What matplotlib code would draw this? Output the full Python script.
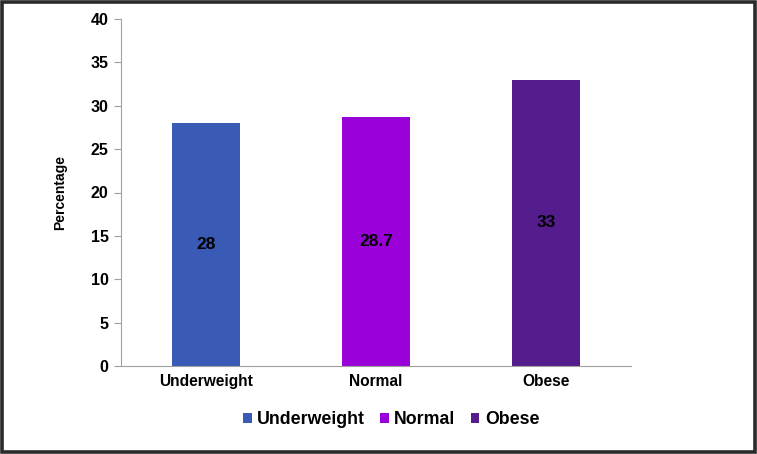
import matplotlib.pyplot as plt
from matplotlib.patches import Rectangle

plt.rcParams['font.family'] = ['Liberation Sans', 'DejaVu Sans']

categories = ['Underweight', 'Normal', 'Obese']
values = [28, 28.7, 33]
labels = ['28', '28.7', '33']
colors = ['#3A5BB5', '#9A00D8', '#541C8C']

fig = plt.figure(figsize=(7.57, 4.54), dpi=100)
ax = fig.add_axes([121 / 757, 1 - 366 / 454, 510 / 757, 347 / 454])

bars = ax.bar(range(len(categories)), values, width=0.4, color=colors, label=categories)
for b, v, t in zip(bars, values, labels):
    ax.text(b.get_x() + b.get_width() / 2, v / 2, t, ha='center', va='center',
            fontsize=12.5, fontweight='bold', color='black')

ax.set_xlim(-0.5, 2.5)
ax.set_ylim(0, 40)
ax.set_yticks(range(0, 41, 5))
ax.set_xticks(range(len(categories)))
ax.set_xticklabels(categories)
ax.tick_params(axis='y', labelsize=11.5, color='#a0a0a0', length=5, pad=4)
ax.tick_params(axis='x', labelsize=11.2, length=0, pad=6)
for lab in ax.get_xticklabels() + ax.get_yticklabels():
    lab.set_fontweight('bold')
ax.set_ylabel('Percentage', fontsize=10, fontweight='bold', labelpad=17)
ax.spines['top'].set_visible(False)
ax.spines['right'].set_visible(False)
ax.spines['left'].set_color('#a0a0a0')
ax.spines['bottom'].set_color('#a0a0a0')

leg = fig.legend(handles=bars, labels=categories, loc='center', bbox_to_anchor=(391 / 757, 1 - 420 / 454),
                 ncol=3, frameon=False, prop={'weight': 'bold', 'size': 12.8},
                 handlelength=0.5, handleheight=0.5, handletextpad=0.3, columnspacing=0.85)

fig.patches.append(Rectangle((0.003, 0.004), 0.994, 0.992, transform=fig.transFigure,
                             fill=False, edgecolor='#2a2a2a', linewidth=2.6))

fig.savefig('out.png', dpi=100)
